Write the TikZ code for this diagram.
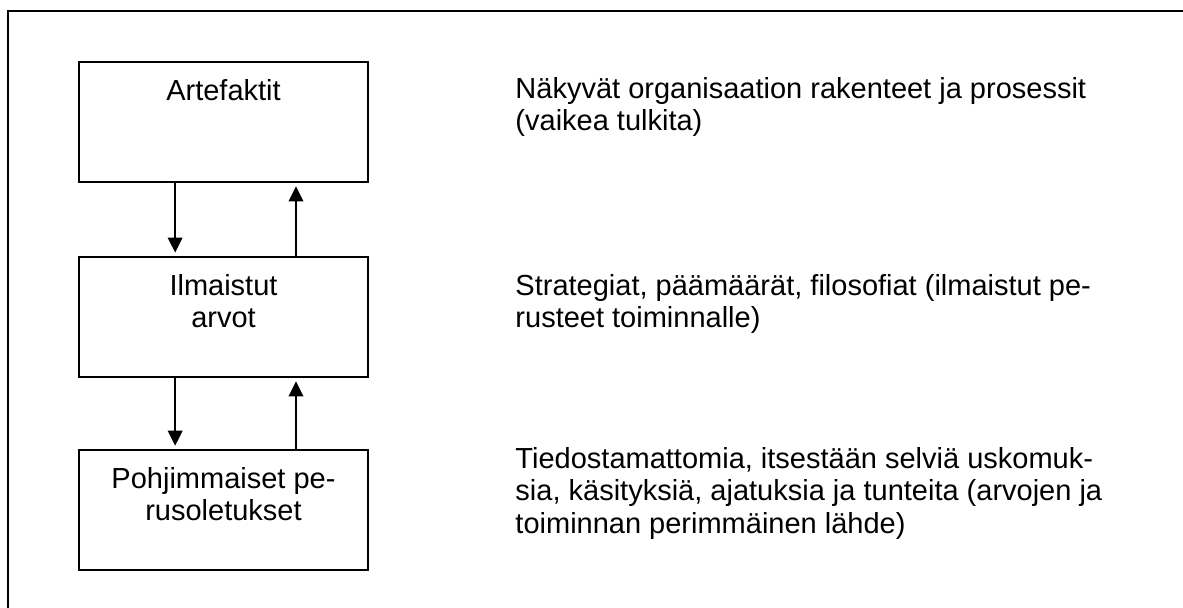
\documentclass[tikz,border=0pt]{standalone}
\usepackage{fontspec}
\setmainfont{Liberation Sans}
\usetikzlibrary{arrows.meta,positioning}
\newcommand{\boxtext}[1]{\parbox[c][49.7pt][t]{119.6pt}{\vspace*{6.3pt}\centering\strut #1}}

\begin{document}
\begin{tikzpicture}[
  x=0.4138pt, y=-0.4138pt,
  every node/.style={font=\fontsize{12}{13.5}\selectfont},
  layer/.style={draw, line width=0.8pt, inner sep=0pt},
  note/.style={inner sep=0pt, align=left, anchor=north west},
  flow/.style={-{Triangle[width=6pt,length=6.2pt]}, line width=0.8pt,
               shorten >=1.4pt},
]
  \useasboundingbox (0,0) rectangle (1183,608);
  \draw[line width=0.8pt] (1200,11) -- (8,11) -- (8,620);

  \node[layer] (art) at (223.5,122) {\boxtext{Artefaktit}};
  \node[layer, below=30.2pt of art] (ilm) {\boxtext{Ilmaistut\\arvot}};
  \node[layer, below=29.4pt of ilm] (poh) {\boxtext{Pohjimmaiset pe-\\rusoletukset}};

  \draw[flow] ([xshift=-20pt]art.south) -- ([xshift=-20pt]ilm.north);
  \draw[flow] ([xshift=30pt]ilm.north) -- ([xshift=30pt]art.south);
  \draw[flow] ([xshift=-20pt]ilm.south) -- ([xshift=-20pt]poh.north);
  \draw[flow] ([xshift=30pt]poh.north) -- ([xshift=30pt]ilm.south);

  \node[note] (artnote) at (515,75)
    {\strut Näkyvät organisaation rakenteet ja prosessit\\(vaikea tulkita)};
  \node[note] (ilmnote) at (515,272)
    {\strut Strategiat, päämäärät, filosofiat (ilmaistut pe-\\rusteet toiminnalle)};
  \node[note] (pohnote) at (515,445)
    {\strut Tiedostamattomia, itsestään selviä uskomuk-\\sia, käsityksiä, ajatuksia ja tunteita (arvojen ja\\toiminnan perimmäinen lähde)};
\end{tikzpicture}
\end{document}
